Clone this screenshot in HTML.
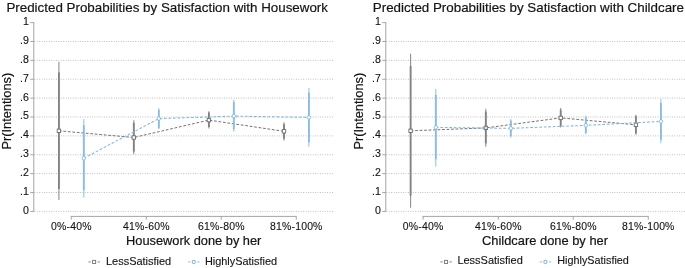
<!DOCTYPE html>
<html><head><meta charset="utf-8"><title>Predicted Probabilities</title>
<style>
html,body{margin:0;padding:0;background:#fff;}
svg{display:block;will-change:transform;font-family:"Liberation Sans",sans-serif;fill:#141414;}
text{stroke:#141414;stroke-width:0.12px;stroke-linejoin:round;}
text.big{stroke-width:0.2px;}
</style></head>
<body>
<svg width="685" height="268" viewBox="0 0 685 268">
<rect x="0" y="0" width="685" height="268" fill="#ffffff"/>
<line x1="34.4" x2="334.5" y1="211.40" y2="211.40" stroke="#b2b2b2" stroke-width="0.9" stroke-dasharray="0.9 1.5"/>
<line x1="34.4" x2="334.5" y1="192.52" y2="192.52" stroke="#b2b2b2" stroke-width="0.9" stroke-dasharray="0.9 1.5"/>
<line x1="34.4" x2="334.5" y1="173.64" y2="173.64" stroke="#b2b2b2" stroke-width="0.9" stroke-dasharray="0.9 1.5"/>
<line x1="34.4" x2="334.5" y1="154.76" y2="154.76" stroke="#b2b2b2" stroke-width="0.9" stroke-dasharray="0.9 1.5"/>
<line x1="34.4" x2="334.5" y1="135.88" y2="135.88" stroke="#b2b2b2" stroke-width="0.9" stroke-dasharray="0.9 1.5"/>
<line x1="34.4" x2="334.5" y1="117.00" y2="117.00" stroke="#b2b2b2" stroke-width="0.9" stroke-dasharray="0.9 1.5"/>
<line x1="34.4" x2="334.5" y1="98.12" y2="98.12" stroke="#b2b2b2" stroke-width="0.9" stroke-dasharray="0.9 1.5"/>
<line x1="34.4" x2="334.5" y1="79.24" y2="79.24" stroke="#b2b2b2" stroke-width="0.9" stroke-dasharray="0.9 1.5"/>
<line x1="34.4" x2="334.5" y1="60.36" y2="60.36" stroke="#b2b2b2" stroke-width="0.9" stroke-dasharray="0.9 1.5"/>
<line x1="34.4" x2="334.5" y1="41.48" y2="41.48" stroke="#b2b2b2" stroke-width="0.9" stroke-dasharray="0.9 1.5"/>
<line x1="33.8" x2="33.8" y1="22.15" y2="211.85" stroke="#9a9a9a" stroke-width="0.9"/>
<line x1="30.299999999999997" x2="33.8" y1="211.40" y2="211.40" stroke="#9a9a9a" stroke-width="0.9"/>
<text x="28.9" y="213.8" font-size="10.6" text-anchor="end">0</text>
<line x1="30.299999999999997" x2="33.8" y1="192.52" y2="192.52" stroke="#9a9a9a" stroke-width="0.9"/>
<text x="28.9" y="194.92" font-size="10.6" text-anchor="end">.1</text>
<line x1="30.299999999999997" x2="33.8" y1="173.64" y2="173.64" stroke="#9a9a9a" stroke-width="0.9"/>
<text x="28.9" y="176.04" font-size="10.6" text-anchor="end">.2</text>
<line x1="30.299999999999997" x2="33.8" y1="154.76" y2="154.76" stroke="#9a9a9a" stroke-width="0.9"/>
<text x="28.9" y="157.16" font-size="10.6" text-anchor="end">.3</text>
<line x1="30.299999999999997" x2="33.8" y1="135.88" y2="135.88" stroke="#9a9a9a" stroke-width="0.9"/>
<text x="28.9" y="138.28" font-size="10.6" text-anchor="end">.4</text>
<line x1="30.299999999999997" x2="33.8" y1="117.00" y2="117.00" stroke="#9a9a9a" stroke-width="0.9"/>
<text x="28.9" y="119.4" font-size="10.6" text-anchor="end">.5</text>
<line x1="30.299999999999997" x2="33.8" y1="98.12" y2="98.12" stroke="#9a9a9a" stroke-width="0.9"/>
<text x="28.9" y="100.52" font-size="10.6" text-anchor="end">.6</text>
<line x1="30.299999999999997" x2="33.8" y1="79.24" y2="79.24" stroke="#9a9a9a" stroke-width="0.9"/>
<text x="28.9" y="81.64" font-size="10.6" text-anchor="end">.7</text>
<line x1="30.299999999999997" x2="33.8" y1="60.36" y2="60.36" stroke="#9a9a9a" stroke-width="0.9"/>
<text x="28.9" y="62.76" font-size="10.6" text-anchor="end">.8</text>
<line x1="30.299999999999997" x2="33.8" y1="41.48" y2="41.48" stroke="#9a9a9a" stroke-width="0.9"/>
<text x="28.9" y="43.88" font-size="10.6" text-anchor="end">.9</text>
<line x1="30.299999999999997" x2="33.8" y1="22.60" y2="22.60" stroke="#9a9a9a" stroke-width="0.9"/>
<text x="28.9" y="25.0" font-size="10.6" text-anchor="end">1</text>
<line x1="70.8" x2="296.7" y1="216.4" y2="216.4" stroke="#9a9a9a" stroke-width="0.9"/>
<line x1="71.25" x2="71.25" y1="216.4" y2="219.6" stroke="#9a9a9a" stroke-width="0.9"/>
<text x="71.25" y="229.5" font-size="10.45" text-anchor="middle" textLength="40.6" lengthAdjust="spacing">0%-40%</text>
<line x1="146.25" x2="146.25" y1="216.4" y2="219.6" stroke="#9a9a9a" stroke-width="0.9"/>
<text x="146.25" y="229.5" font-size="10.45" text-anchor="middle" textLength="46.5" lengthAdjust="spacing">41%-60%</text>
<line x1="221.25" x2="221.25" y1="216.4" y2="219.6" stroke="#9a9a9a" stroke-width="0.9"/>
<text x="221.25" y="229.5" font-size="10.45" text-anchor="middle" textLength="46.5" lengthAdjust="spacing">61%-80%</text>
<line x1="296.25" x2="296.25" y1="216.4" y2="219.6" stroke="#9a9a9a" stroke-width="0.9"/>
<text x="296.25" y="229.5" font-size="10.45" text-anchor="middle" textLength="52.3" lengthAdjust="spacing">81%-100%</text>
<text x="6.4" y="12" font-size="13.5" text-anchor="start" textLength="321.6" lengthAdjust="spacingAndGlyphs" class="big">Predicted Probabilities by Satisfaction with Housework</text>
<text x="126.1" y="245" font-size="12.9" text-anchor="start" textLength="135.3" lengthAdjust="spacingAndGlyphs" class="big">Housework done by her</text>
<text class="big" transform="translate(11.199999999999996,111.2) rotate(-90)" font-size="12.9" text-anchor="middle" textLength="76.8" lengthAdjust="spacingAndGlyphs">Pr(Intentions)</text>
<line x1="58.9" x2="58.9" y1="61.8" y2="199.9" stroke="#8a8a8a" stroke-width="1.05"/>
<line x1="58.9" x2="58.9" y1="72.4" y2="189.0" stroke="#828282" stroke-width="1.85"/>
<line x1="133.8" x2="133.8" y1="120.2" y2="154.1" stroke="#8a8a8a" stroke-width="1.05"/>
<line x1="133.8" x2="133.8" y1="122.7" y2="151.6" stroke="#828282" stroke-width="1.85"/>
<line x1="208.9" x2="208.9" y1="111.2" y2="128.6" stroke="#8a8a8a" stroke-width="1.05"/>
<line x1="208.9" x2="208.9" y1="112.5" y2="127.0" stroke="#828282" stroke-width="1.85"/>
<line x1="284.0" x2="284.0" y1="122.3" y2="140.5" stroke="#8a8a8a" stroke-width="1.05"/>
<line x1="284.0" x2="284.0" y1="124.1" y2="138.7" stroke="#828282" stroke-width="1.85"/>
<path d="M58.9 130.8 L133.8 137.5 L208.9 120.1 L284.0 131.3" fill="none" stroke="#6c6c6c" stroke-width="0.95" stroke-dasharray="2.75 1.75"/>
<rect x="57.20" y="129.10" width="3.4" height="3.4" fill="#fff" stroke="#6c6c6c" stroke-width="0.9"/>
<rect x="132.10" y="135.80" width="3.4" height="3.4" fill="#fff" stroke="#6c6c6c" stroke-width="0.9"/>
<rect x="207.20" y="118.40" width="3.4" height="3.4" fill="#fff" stroke="#6c6c6c" stroke-width="0.9"/>
<rect x="282.30" y="129.60" width="3.4" height="3.4" fill="#fff" stroke="#6c6c6c" stroke-width="0.9"/>
<line x1="83.8" x2="83.8" y1="118.9" y2="197.5" stroke="#92c1e4" stroke-width="1.05"/>
<line x1="83.8" x2="83.8" y1="125.2" y2="190.3" stroke="#8abce2" stroke-width="1.85"/>
<line x1="158.8" x2="158.8" y1="108.1" y2="129.0" stroke="#92c1e4" stroke-width="1.05"/>
<line x1="158.8" x2="158.8" y1="109.9" y2="128.2" stroke="#8abce2" stroke-width="1.85"/>
<line x1="233.8" x2="233.8" y1="99.8" y2="131.6" stroke="#92c1e4" stroke-width="1.05"/>
<line x1="233.8" x2="233.8" y1="102.0" y2="129.2" stroke="#8abce2" stroke-width="1.85"/>
<line x1="308.9" x2="308.9" y1="88.1" y2="146.8" stroke="#92c1e4" stroke-width="1.05"/>
<line x1="308.9" x2="308.9" y1="92.7" y2="142.3" stroke="#8abce2" stroke-width="1.85"/>
<path d="M83.8 158.2 L158.8 118.6 L233.8 116.1 L308.9 117.4" fill="none" stroke="#82b8e0" stroke-width="1.05" stroke-dasharray="2.75 1.75"/>
<circle cx="83.8" cy="158.2" r="1.75" fill="#fff" stroke="#82b8e0" stroke-width="0.9"/>
<circle cx="158.8" cy="118.6" r="1.75" fill="#fff" stroke="#82b8e0" stroke-width="0.9"/>
<circle cx="233.8" cy="116.1" r="1.75" fill="#fff" stroke="#82b8e0" stroke-width="0.9"/>
<circle cx="308.9" cy="117.4" r="1.75" fill="#fff" stroke="#82b8e0" stroke-width="0.9"/>
<line x1="88.50" x2="90.80" y1="261.9" y2="261.9" stroke="#858585" stroke-width="1"/>
<line x1="97.50" x2="99.90" y1="261.9" y2="261.9" stroke="#858585" stroke-width="1"/>
<rect x="92.55" y="260.35" width="3.1" height="3.1" fill="#fff" stroke="#747474" stroke-width="0.9"/>
<text x="106.0" y="265" font-size="10.8" text-anchor="start" textLength="65.2" lengthAdjust="spacingAndGlyphs">LessSatisfied</text>
<line x1="188.15" x2="190.45" y1="261.9" y2="261.9" stroke="#8fc0e4" stroke-width="1"/>
<line x1="197.15" x2="199.55" y1="261.9" y2="261.9" stroke="#8fc0e4" stroke-width="1"/>
<circle cx="193.75" cy="261.9" r="1.6" fill="#fff" stroke="#82b8e0" stroke-width="1.05"/>
<text x="204.9" y="265" font-size="10.8" text-anchor="start" textLength="72.2" lengthAdjust="spacingAndGlyphs">HighlySatisfied</text>
<line x1="386.40000000000003" x2="686" y1="211.40" y2="211.40" stroke="#b2b2b2" stroke-width="0.9" stroke-dasharray="0.9 1.5"/>
<line x1="386.40000000000003" x2="686" y1="192.52" y2="192.52" stroke="#b2b2b2" stroke-width="0.9" stroke-dasharray="0.9 1.5"/>
<line x1="386.40000000000003" x2="686" y1="173.64" y2="173.64" stroke="#b2b2b2" stroke-width="0.9" stroke-dasharray="0.9 1.5"/>
<line x1="386.40000000000003" x2="686" y1="154.76" y2="154.76" stroke="#b2b2b2" stroke-width="0.9" stroke-dasharray="0.9 1.5"/>
<line x1="386.40000000000003" x2="686" y1="135.88" y2="135.88" stroke="#b2b2b2" stroke-width="0.9" stroke-dasharray="0.9 1.5"/>
<line x1="386.40000000000003" x2="686" y1="117.00" y2="117.00" stroke="#b2b2b2" stroke-width="0.9" stroke-dasharray="0.9 1.5"/>
<line x1="386.40000000000003" x2="686" y1="98.12" y2="98.12" stroke="#b2b2b2" stroke-width="0.9" stroke-dasharray="0.9 1.5"/>
<line x1="386.40000000000003" x2="686" y1="79.24" y2="79.24" stroke="#b2b2b2" stroke-width="0.9" stroke-dasharray="0.9 1.5"/>
<line x1="386.40000000000003" x2="686" y1="60.36" y2="60.36" stroke="#b2b2b2" stroke-width="0.9" stroke-dasharray="0.9 1.5"/>
<line x1="386.40000000000003" x2="686" y1="41.48" y2="41.48" stroke="#b2b2b2" stroke-width="0.9" stroke-dasharray="0.9 1.5"/>
<line x1="385.8" x2="385.8" y1="22.15" y2="211.85" stroke="#9a9a9a" stroke-width="0.9"/>
<line x1="382.3" x2="385.8" y1="211.40" y2="211.40" stroke="#9a9a9a" stroke-width="0.9"/>
<text x="380.90000000000003" y="213.8" font-size="10.6" text-anchor="end">0</text>
<line x1="382.3" x2="385.8" y1="192.52" y2="192.52" stroke="#9a9a9a" stroke-width="0.9"/>
<text x="380.90000000000003" y="194.92" font-size="10.6" text-anchor="end">.1</text>
<line x1="382.3" x2="385.8" y1="173.64" y2="173.64" stroke="#9a9a9a" stroke-width="0.9"/>
<text x="380.90000000000003" y="176.04" font-size="10.6" text-anchor="end">.2</text>
<line x1="382.3" x2="385.8" y1="154.76" y2="154.76" stroke="#9a9a9a" stroke-width="0.9"/>
<text x="380.90000000000003" y="157.16" font-size="10.6" text-anchor="end">.3</text>
<line x1="382.3" x2="385.8" y1="135.88" y2="135.88" stroke="#9a9a9a" stroke-width="0.9"/>
<text x="380.90000000000003" y="138.28" font-size="10.6" text-anchor="end">.4</text>
<line x1="382.3" x2="385.8" y1="117.00" y2="117.00" stroke="#9a9a9a" stroke-width="0.9"/>
<text x="380.90000000000003" y="119.4" font-size="10.6" text-anchor="end">.5</text>
<line x1="382.3" x2="385.8" y1="98.12" y2="98.12" stroke="#9a9a9a" stroke-width="0.9"/>
<text x="380.90000000000003" y="100.52" font-size="10.6" text-anchor="end">.6</text>
<line x1="382.3" x2="385.8" y1="79.24" y2="79.24" stroke="#9a9a9a" stroke-width="0.9"/>
<text x="380.90000000000003" y="81.64" font-size="10.6" text-anchor="end">.7</text>
<line x1="382.3" x2="385.8" y1="60.36" y2="60.36" stroke="#9a9a9a" stroke-width="0.9"/>
<text x="380.90000000000003" y="62.76" font-size="10.6" text-anchor="end">.8</text>
<line x1="382.3" x2="385.8" y1="41.48" y2="41.48" stroke="#9a9a9a" stroke-width="0.9"/>
<text x="380.90000000000003" y="43.88" font-size="10.6" text-anchor="end">.9</text>
<line x1="382.3" x2="385.8" y1="22.60" y2="22.60" stroke="#9a9a9a" stroke-width="0.9"/>
<text x="380.90000000000003" y="25.0" font-size="10.6" text-anchor="end">1</text>
<line x1="422.65000000000003" x2="648.7" y1="216.4" y2="216.4" stroke="#9a9a9a" stroke-width="0.9"/>
<line x1="423.1" x2="423.1" y1="216.4" y2="219.6" stroke="#9a9a9a" stroke-width="0.9"/>
<text x="423.1" y="229.5" font-size="10.45" text-anchor="middle" textLength="40.6" lengthAdjust="spacing">0%-40%</text>
<line x1="498.25" x2="498.25" y1="216.4" y2="219.6" stroke="#9a9a9a" stroke-width="0.9"/>
<text x="498.25" y="229.5" font-size="10.45" text-anchor="middle" textLength="46.5" lengthAdjust="spacing">41%-60%</text>
<line x1="573.25" x2="573.25" y1="216.4" y2="219.6" stroke="#9a9a9a" stroke-width="0.9"/>
<text x="573.25" y="229.5" font-size="10.45" text-anchor="middle" textLength="46.5" lengthAdjust="spacing">61%-80%</text>
<line x1="648.25" x2="648.25" y1="216.4" y2="219.6" stroke="#9a9a9a" stroke-width="0.9"/>
<text x="648.25" y="229.5" font-size="10.45" text-anchor="middle" textLength="52.3" lengthAdjust="spacing">81%-100%</text>
<text x="372.8" y="12" font-size="13.5" text-anchor="start" textLength="311.2" lengthAdjust="spacingAndGlyphs" class="big">Predicted Probabilities by Satisfaction with Childcare</text>
<text x="482.0" y="245" font-size="12.9" text-anchor="start" textLength="126.0" lengthAdjust="spacingAndGlyphs" class="big">Childcare done by her</text>
<text class="big" transform="translate(363.2,111.2) rotate(-90)" font-size="12.9" text-anchor="middle" textLength="76.8" lengthAdjust="spacingAndGlyphs">Pr(Intentions)</text>
<line x1="410.6" x2="410.6" y1="53.8" y2="207.7" stroke="#8a8a8a" stroke-width="1.05"/>
<line x1="410.6" x2="410.6" y1="66.0" y2="195.6" stroke="#828282" stroke-width="1.85"/>
<line x1="485.8" x2="485.8" y1="108.7" y2="146.8" stroke="#8a8a8a" stroke-width="1.05"/>
<line x1="485.8" x2="485.8" y1="111.5" y2="143.4" stroke="#828282" stroke-width="1.85"/>
<line x1="560.7" x2="560.7" y1="108.1" y2="127.6" stroke="#8a8a8a" stroke-width="1.05"/>
<line x1="560.7" x2="560.7" y1="109.85" y2="126.0" stroke="#828282" stroke-width="1.85"/>
<line x1="635.9" x2="635.9" y1="114.7" y2="134.7" stroke="#8a8a8a" stroke-width="1.05"/>
<line x1="635.9" x2="635.9" y1="116.2" y2="133.5" stroke="#828282" stroke-width="1.85"/>
<path d="M410.6 130.8 L485.8 127.9 L560.7 117.9 L635.9 124.8" fill="none" stroke="#6c6c6c" stroke-width="0.95" stroke-dasharray="2.75 1.75"/>
<rect x="408.90" y="129.10" width="3.4" height="3.4" fill="#fff" stroke="#6c6c6c" stroke-width="0.9"/>
<rect x="484.10" y="126.20" width="3.4" height="3.4" fill="#fff" stroke="#6c6c6c" stroke-width="0.9"/>
<rect x="559.00" y="116.20" width="3.4" height="3.4" fill="#fff" stroke="#6c6c6c" stroke-width="0.9"/>
<rect x="634.20" y="123.10" width="3.4" height="3.4" fill="#fff" stroke="#6c6c6c" stroke-width="0.9"/>
<line x1="435.8" x2="435.8" y1="88.95" y2="166.6" stroke="#92c1e4" stroke-width="1.05"/>
<line x1="435.8" x2="435.8" y1="95.0" y2="159.4" stroke="#8abce2" stroke-width="1.85"/>
<line x1="510.8" x2="510.8" y1="118.9" y2="137.8" stroke="#92c1e4" stroke-width="1.05"/>
<line x1="510.8" x2="510.8" y1="120.5" y2="135.9" stroke="#8abce2" stroke-width="1.85"/>
<line x1="585.8" x2="585.8" y1="115.7" y2="134.35" stroke="#92c1e4" stroke-width="1.05"/>
<line x1="585.8" x2="585.8" y1="117.2" y2="133.0" stroke="#8abce2" stroke-width="1.85"/>
<line x1="660.9" x2="660.9" y1="99.2" y2="143.35" stroke="#92c1e4" stroke-width="1.05"/>
<line x1="660.9" x2="660.9" y1="103.0" y2="139.8" stroke="#8abce2" stroke-width="1.85"/>
<path d="M435.8 127.4 L510.8 128.35 L585.8 125.4 L660.9 121.4" fill="none" stroke="#82b8e0" stroke-width="1.05" stroke-dasharray="2.75 1.75"/>
<circle cx="435.8" cy="127.4" r="1.75" fill="#fff" stroke="#82b8e0" stroke-width="0.9"/>
<circle cx="510.8" cy="128.35" r="1.75" fill="#fff" stroke="#82b8e0" stroke-width="0.9"/>
<circle cx="585.8" cy="125.4" r="1.75" fill="#fff" stroke="#82b8e0" stroke-width="0.9"/>
<circle cx="660.9" cy="121.4" r="1.75" fill="#fff" stroke="#82b8e0" stroke-width="0.9"/>
<line x1="440.45" x2="442.75" y1="261.9" y2="261.9" stroke="#858585" stroke-width="1"/>
<line x1="449.45" x2="451.85" y1="261.9" y2="261.9" stroke="#858585" stroke-width="1"/>
<rect x="444.50" y="260.35" width="3.1" height="3.1" fill="#fff" stroke="#747474" stroke-width="0.9"/>
<text x="457.4" y="264" font-size="10.8" text-anchor="start" textLength="65.4" lengthAdjust="spacingAndGlyphs">LessSatisfied</text>
<line x1="539.80" x2="542.10" y1="261.9" y2="261.9" stroke="#8fc0e4" stroke-width="1"/>
<line x1="548.80" x2="551.20" y1="261.9" y2="261.9" stroke="#8fc0e4" stroke-width="1"/>
<circle cx="545.4" cy="261.9" r="1.6" fill="#fff" stroke="#82b8e0" stroke-width="1.05"/>
<text x="557.3" y="264" font-size="10.8" text-anchor="start" textLength="71.6" lengthAdjust="spacingAndGlyphs">HighlySatisfied</text>
</svg>
</body></html>
